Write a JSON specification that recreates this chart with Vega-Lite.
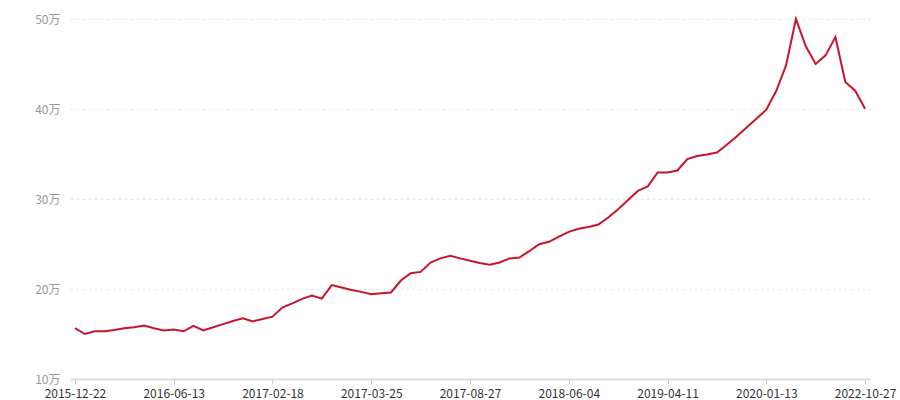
{
  "$schema": "https://vega.github.io/schema/vega-lite/v6.json",
  "width": 800,
  "height": 360,
  "autosize": {"type": "none"},
  "padding": {"left": 70, "top": 19, "right": 30, "bottom": 21},
  "background": "white",
  "config": {
    "view": {"stroke": null},
    "font": "Noto Sans CJK SC"
  },
  "data": {
    "values": [
      {"date": "2015-12-22", "price": 15.65},
      {"date": "2016-01-08", "price": 15.0},
      {"date": "2016-01-25", "price": 15.3},
      {"date": "2016-02-11", "price": 15.3},
      {"date": "2016-02-28", "price": 15.45},
      {"date": "2016-03-16", "price": 15.64},
      {"date": "2016-04-02", "price": 15.75},
      {"date": "2016-04-19", "price": 15.93},
      {"date": "2016-05-06", "price": 15.64},
      {"date": "2016-05-24", "price": 15.4},
      {"date": "2016-06-13", "price": 15.5},
      {"date": "2016-07-08", "price": 15.3},
      {"date": "2016-08-02", "price": 15.9},
      {"date": "2016-08-27", "price": 15.4},
      {"date": "2016-09-21", "price": 15.75},
      {"date": "2016-10-16", "price": 16.1},
      {"date": "2016-11-10", "price": 16.45},
      {"date": "2016-12-05", "price": 16.75},
      {"date": "2016-12-30", "price": 16.4},
      {"date": "2017-01-24", "price": 16.67},
      {"date": "2017-02-18", "price": 16.93},
      {"date": "2017-02-21", "price": 17.93},
      {"date": "2017-02-25", "price": 18.4},
      {"date": "2017-02-28", "price": 18.9},
      {"date": "2017-03-04", "price": 19.27},
      {"date": "2017-03-07", "price": 18.93},
      {"date": "2017-03-11", "price": 20.44},
      {"date": "2017-03-14", "price": 20.16},
      {"date": "2017-03-18", "price": 19.9},
      {"date": "2017-03-21", "price": 19.68},
      {"date": "2017-03-25", "price": 19.42},
      {"date": "2017-04-09", "price": 19.52},
      {"date": "2017-04-25", "price": 19.62},
      {"date": "2017-05-10", "price": 20.94},
      {"date": "2017-05-26", "price": 21.76},
      {"date": "2017-06-10", "price": 21.9},
      {"date": "2017-06-25", "price": 22.94},
      {"date": "2017-07-11", "price": 23.4},
      {"date": "2017-07-26", "price": 23.7},
      {"date": "2017-08-11", "price": 23.4},
      {"date": "2017-08-27", "price": 23.13},
      {"date": "2017-09-24", "price": 22.9},
      {"date": "2017-10-22", "price": 22.7},
      {"date": "2017-11-19", "price": 22.94},
      {"date": "2017-12-17", "price": 23.4},
      {"date": "2018-01-14", "price": 23.5},
      {"date": "2018-02-11", "price": 24.2},
      {"date": "2018-03-11", "price": 24.98},
      {"date": "2018-04-08", "price": 25.24},
      {"date": "2018-05-06", "price": 25.83},
      {"date": "2018-06-04", "price": 26.35},
      {"date": "2018-07-05", "price": 26.69},
      {"date": "2018-08-05", "price": 26.9},
      {"date": "2018-09-05", "price": 27.16},
      {"date": "2018-10-06", "price": 27.94},
      {"date": "2018-11-06", "price": 28.87},
      {"date": "2018-12-07", "price": 29.9},
      {"date": "2019-01-07", "price": 30.9},
      {"date": "2019-02-07", "price": 31.4},
      {"date": "2019-03-10", "price": 32.95},
      {"date": "2019-04-11", "price": 32.95},
      {"date": "2019-05-09", "price": 33.17},
      {"date": "2019-06-06", "price": 34.44},
      {"date": "2019-07-04", "price": 34.77},
      {"date": "2019-08-01", "price": 34.95},
      {"date": "2019-08-29", "price": 35.17},
      {"date": "2019-09-26", "price": 36.03},
      {"date": "2019-10-24", "price": 36.95},
      {"date": "2019-11-21", "price": 37.95},
      {"date": "2019-12-19", "price": 38.92},
      {"date": "2020-01-13", "price": 39.92},
      {"date": "2020-04-22", "price": 42.0},
      {"date": "2020-07-31", "price": 44.85},
      {"date": "2020-11-08", "price": 50.0},
      {"date": "2021-02-16", "price": 46.96},
      {"date": "2021-05-27", "price": 45.0},
      {"date": "2021-09-04", "price": 45.96},
      {"date": "2021-12-13", "price": 48.0},
      {"date": "2022-03-23", "price": 43.0},
      {"date": "2022-07-01", "price": 42.03},
      {"date": "2022-10-27", "price": 40.03}
    ]
  },
  "mark": {"type": "line", "color": "#c8142c", "strokeWidth": 2, "interpolate": "linear"},
  "encoding": {
    "x": {
      "field": "date",
      "type": "ordinal",
      "sort": null,
      "scale": {"type": "point", "padding": 0.5},
      "axis": {
        "title": null,
        "values": ["2015-12-22", "2016-06-13", "2017-02-18", "2017-03-25", "2017-08-27", "2018-06-04", "2019-04-11", "2020-01-13", "2022-10-27"],
        "labelAngle": 0,
        "labelFontSize": 12,
        "labelColor": "#333333",
        "labelPadding": 4,
        "domainColor": "#dddddd",
        "domainWidth": 2,
        "tickColor": "#cccccc",
        "tickSize": 5,
        "grid": false
      }
    },
    "y": {
      "field": "price",
      "type": "quantitative",
      "scale": {"domain": [10, 50], "nice": false, "zero": false},
      "axis": {
        "title": null,
        "values": [10, 20, 30, 40, 50],
        "labelExpr": "datum.value + '万'",
        "labelFontSize": 12,
        "labelColor": "#999999",
        "labelPadding": 10,
        "domain": false,
        "ticks": false,
        "grid": true,
        "gridColor": "#e6e6e6",
        "gridDash": [3, 3],
        "gridWidth": 1
      }
    }
  }
}
